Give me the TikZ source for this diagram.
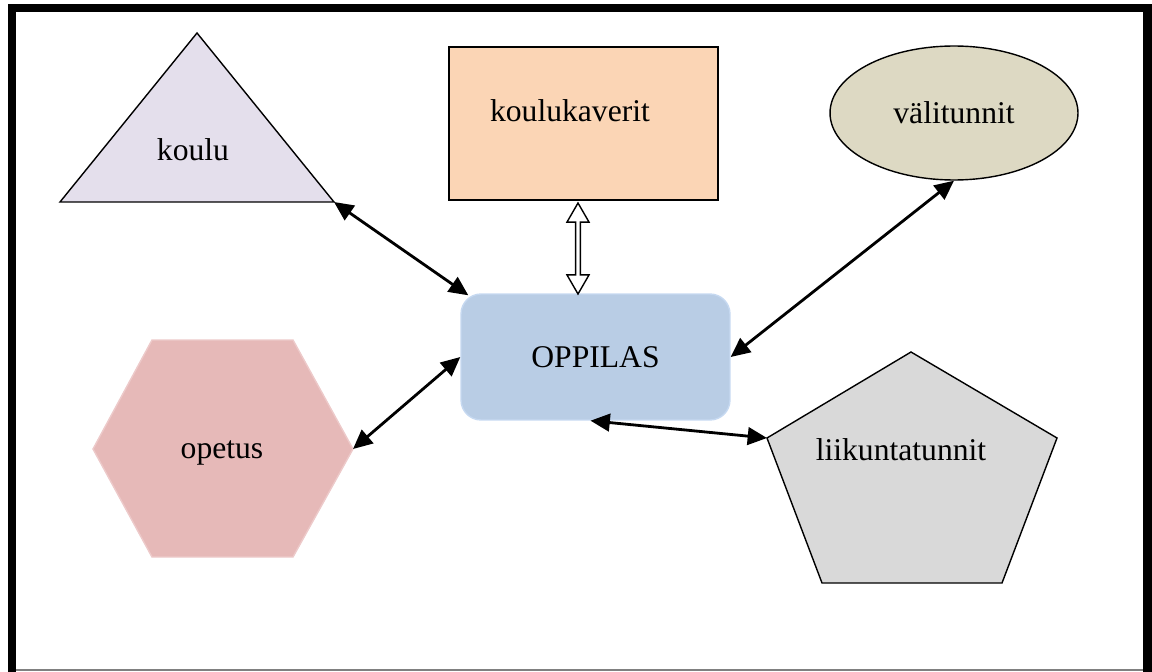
\documentclass[tikz,border=0pt]{standalone}
\usepackage{fontspec}
\setmainfont{Liberation Serif}
\usepackage{tikz}
\usetikzlibrary{arrows.meta,shapes.geometric,shapes.arrows}

\definecolor{kouluc}{HTML}{E4DFEC}
\definecolor{kaveric}{HTML}{FBD5B5}
\definecolor{valic}{HTML}{DDD9C3}
\definecolor{oppilasc}{HTML}{B9CDE5}
\definecolor{oppilasb}{HTML}{C6D9F1}
\definecolor{opetusc}{HTML}{E6B9B8}
\definecolor{opetusb}{HTML}{EDCACA}
\definecolor{liikuc}{HTML}{D9D9D9}

\tikzset{
  lbl/.style={font=\fontsize{18}{21}\selectfont},
  link/.style={line width=1.6pt,
    {Triangle[length=11pt,width=10pt]}-{Triangle[length=11pt,width=10pt]}},
}

\begin{document}
\begin{tikzpicture}[x=0.02cm,y=-0.02cm]
      \useasboundingbox (0,0) rectangle (1152,672);
      % frame
      \fill (8,4) rectangle (1152,12);
      \fill (8,4) rectangle (16,672);
      \fill (1143,4) rectangle (1152,672);
      \draw[gray, line width=0.6pt] (16,670) -- (1143,670);
      % OPPILAS
      \draw (595.5,357) node[rectangle, rounded corners=0.4cm, fill=oppilasc, draw=oppilasb,
        line width=0.8pt, minimum width=5.38cm, minimum height=2.52cm, lbl](oppilas){OPPILAS};
      % koulu
      \draw[fill=kouluc, line width=0.8pt] (197,33) -- (334,202) coordinate (koulu-r) -- (60,202) -- cycle;
      \draw (193,150) node[lbl](koulu){koulu};
      % koulukaverit
      \draw (583.5,123.5) node[rectangle, draw, fill=kaveric, line width=0.8pt,
        minimum width=5.38cm, minimum height=3.06cm](kaverit){};
      \draw (570,111) node[lbl](kaverittxt){koulukaverit};
      % valitunnit
      \draw (954,113) node[ellipse, draw, fill=valic, line width=0.8pt, inner sep=0pt,
        minimum width=4.96cm, minimum height=2.68cm, lbl](vali){välitunnit};
      % opetus
      \draw[fill=opetusc, draw=opetusb, line width=0.8pt] (93,449) -- (152,340) -- (293,340)
        -- (353,449) coordinate (opetus-r) -- (293,557) -- (152,557) -- cycle;
      \draw (222,453) node[lbl](opetus){opetus};
      % liikuntatunnit
      \draw[fill=liikuc, line width=0.8pt] (911,352) -- (1057,438) -- (1002,583) -- (822,583)
        -- (767,438) coordinate (liiku-l) -- cycle;
      \draw (901,450) node[lbl](liiku){liikuntatunnit};
      % arrows
      \draw[link] (koulu-r) -- ([shift={(8,2)}]oppilas.north west);
      \draw[link] (vali.south) -- (oppilas.east);
      \draw[link] (opetus-r) -- (oppilas.west);
      \draw[link] (liiku-l) -- ([xshift=-0.1cm]oppilas.south);
      \draw (578,248.5) node[double arrow, draw, fill=white, line width=0.8pt, rotate=90,
        inner sep=0pt, minimum height=1.82cm, minimum width=0.44cm,
        double arrow head extend=0.05cm, double arrow tip angle=60](kk){};
\end{tikzpicture}
\end{document}
